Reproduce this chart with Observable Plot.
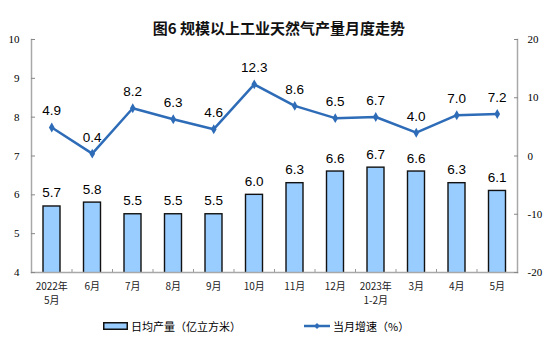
<!DOCTYPE html>
<html>
<head>
<meta charset="utf-8">
<script src="https://cdn.jsdelivr.net/npm/d3@7"></script>
<script src="https://cdn.jsdelivr.net/npm/@observablehq/plot@0.6"></script>
<style>
  body { margin: 0; background: #fff; width: 554px; }
  #title { height: 15px; padding-top: 17px; line-height: 15px; text-align: center; font: bold 15px "Noto Sans CJK SC", sans-serif; color: #111; padding-left: 4px; }
  #legend { position: relative; height: 28px; font: 11px "Noto Sans CJK SC", sans-serif; color: #000; }
  #legend .item { position: absolute; top: 0; height: 28px; line-height: 28px; display: flex; align-items: center; }
  svg { display: block; }
</style>
</head>
<body>
<div id="title">图6 规模以上工业天然气产量月度走势</div>
<div id="chart"></div>
<div id="legend"></div>
<script>
const categories = ["2022年\n5月", "6月", "7月", "8月", "9月", "10月", "11月", "12月", "2023年\n1-2月", "3月", "4月", "5月"];
const dailyOutput = [5.7, 5.8, 5.5, 5.5, 5.5, 6.0, 6.3, 6.6, 6.7, 6.6, 6.3, 6.1];
const growthRate = [4.9, 0.4, 8.2, 6.3, 4.6, 12.3, 8.6, 6.5, 6.7, 4.0, 7.0, 7.2];
const leftTicks = [4, 5, 6, 7, 8, 9, 10];
const rightTicks = [-20, -10, 0, 10, 20];
const seriesNames = ["日均产量（亿立方米）", "当月增速（%）"];

const barFill = "#99ccff";
const lineColor = "#2e6cb8";
const axisColor = "#a8a8a8";

// right axis [-20, 20] mapped onto left domain [4, 10]
const toLeft = v => 7 + v * 0.15;
const fromLeft = y => Math.round((y - 7) / 0.15);

const chart = Plot.plot({
  width: 554,
  height: 280,
  marginTop: 7,
  marginBottom: 40,
  marginLeft: 31,
  marginRight: 37,
  x: { type: "linear", domain: [0, categories.length] },
  y: { domain: [4, 10] },
  style: { background: "transparent", color: "#000" },
  marks: [
    Plot.rectY(dailyOutput, {
      x1: (d, i) => i, x2: (d, i) => i + 1, y: d => d,
      insetLeft: 12, insetRight: 11.5,
      fill: barFill, stroke: "#111", strokeWidth: 1.4, clip: true
    }),
    Plot.frame({ anchor: "left", stroke: axisColor, strokeWidth: 1.5 }),
    Plot.frame({ anchor: "right", stroke: axisColor, strokeWidth: 1.5 }),
    Plot.frame({ anchor: "bottom", stroke: axisColor, strokeWidth: 1.5 }),
    Plot.axisY({
      anchor: "left", ticks: leftTicks, tickSize: 4, dx: 4, tickPadding: 12,
      stroke: "#888", fill: "#000", fontSize: 11, fontFamily: "Liberation Serif, serif",
      tickFormat: d => d
    }),
    Plot.axisY({
      anchor: "right", ticks: rightTicks.map(toLeft), tickSize: 4, dx: -4, tickPadding: 10,
      stroke: "#888", fill: "#000", fontSize: 11, fontFamily: "Liberation Serif, serif",
      tickFormat: fromLeft
    }),
    Plot.axisX({
      ticks: d3.range(1, categories.length), tickSize: 3, dy: -3,
      tickFormat: () => "", stroke: "#999"
    }),
    Plot.axisX({
      ticks: categories.map((_, i) => i + 0.5), tickSize: 0, tickPadding: 8,
      tickFormat: v => categories[Math.floor(v)],
      fontSize: 10, lineHeight: 1.35, fill: "#222",
      fontFamily: "Noto Sans CJK SC, sans-serif"
    }),
    Plot.text(dailyOutput, {
      x: (d, i) => i + 0.5, y: d => d, text: d => d.toFixed(1),
      dy: -9, lineAnchor: "bottom", fontSize: 13.5, fill: "#000",
      fontFamily: "Liberation Sans, Arial, sans-serif"
    }),
    Plot.line(growthRate, {
      x: (d, i) => i + 0.5, y: d => toLeft(d),
      stroke: lineColor, strokeWidth: 2.5
    }),
    Plot.dot(growthRate, {
      x: (d, i) => i + 0.5, y: d => toLeft(d),
      symbol: "diamond", r: 3, fill: lineColor, stroke: "none"
    }),
    Plot.text(growthRate, {
      x: (d, i) => i + 0.5, y: d => toLeft(d), text: d => d.toFixed(1),
      dy: -12, lineAnchor: "bottom", fontSize: 13.5, fill: "#000",
      fontFamily: "Liberation Sans, Arial, sans-serif"
    })
  ]
});
document.getElementById("chart").appendChild(chart);

const legend = document.getElementById("legend");
legend.innerHTML = `
  <div class="item" style="left:103px">
    <svg width="25" height="8"><rect x="0.75" y="0.75" width="23.5" height="6.5" fill="${barFill}" stroke="#111" stroke-width="1.5"/></svg>
    <span style="margin-left:3px">${seriesNames[0]}</span>
  </div>
  <div class="item" style="left:304px">
    <svg width="26" height="8"><line x1="0" y1="4" x2="26" y2="4" stroke="${lineColor}" stroke-width="2.5"/><path d="M13,1 L16,4 L13,7 L10,4 Z" fill="${lineColor}"/></svg>
    <span style="margin-left:3px">${seriesNames[1]}</span>
  </div>`;
</script>
</body>
</html>
